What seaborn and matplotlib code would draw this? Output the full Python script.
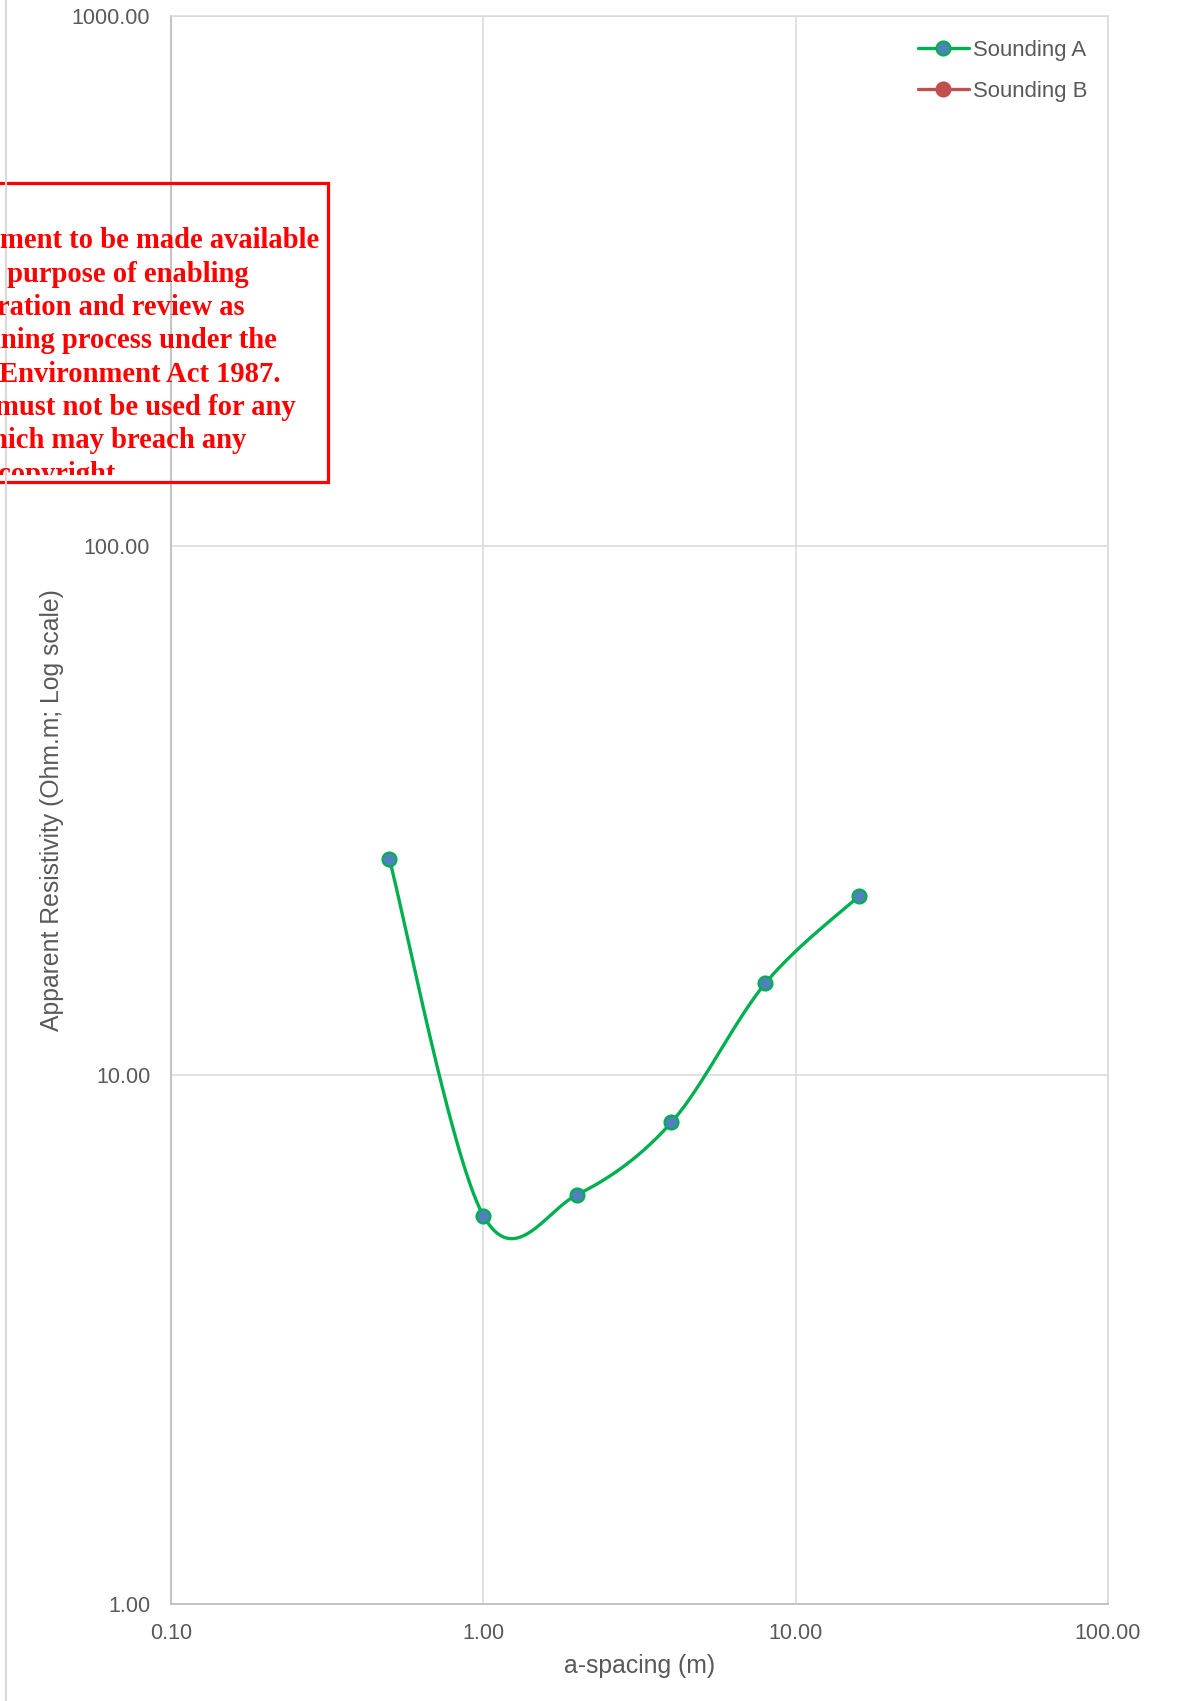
import numpy as np
import pandas as pd
import matplotlib
matplotlib.use("Agg")
import matplotlib.pyplot as plt
import seaborn as sns
from matplotlib.lines import Line2D
from matplotlib.patches import Rectangle
from matplotlib.ticker import LogLocator, FormatStrFormatter, NullLocator, NullFormatter

# Wenner sounding data
a_spacing = [0.5, 1.0, 2.0, 4.0, 8.0, 16.0]
rho_a = [25.6, 5.42, 5.94, 8.13, 14.9, 21.8]
series_names = ["Sounding A", "Sounding B"]

x_ticks = [0.1, 1, 10, 100]
y_ticks = [1, 10, 100, 1000]

stamp_lines = [
    "ment to be made available",
    " purpose of enabling",
    "ration and review as",
    "nning process under the",
    " Environment Act 1987.",
    "must not be used for any",
    "hich may breach any",
    "copyright",
]

GREEN = "#00B050"
BLUE = "#4F81BD"
RED = "#C0504D"
TEXT = "#595959"
GRID = "#D9D9D9"
AXIS = "#BFBFBF"

sns.set_style("white")
plt.rcParams["font.family"] = ["Liberation Sans", "DejaVu Sans"]

W, H = 1191, 1701
fig = plt.figure(figsize=(W / 100, H / 100), dpi=100)
L, R, T, B = 171, 1108, 16.5, 1604
ax = fig.add_axes([L / W, 1 - B / H, (R - L) / W, (B - T) / H])

ax.set_xscale("log")
ax.set_yscale("log")
ax.set_xlim(x_ticks[0], x_ticks[-1])
ax.set_ylim(y_ticks[0], y_ticks[-1])


def smooth_curve(x, y, n=60):
    """Bezier smoothing (Catmull-Rom style) computed in screen space."""
    pts = ax.transData.transform(np.column_stack([x, y]))
    P = np.vstack([pts[0], pts, pts[-1]])
    t = np.linspace(0, 1, n)[:, None]
    segs = []
    for i in range(len(pts) - 1):
        p0, p1, p2, p3 = P[i], P[i + 1], P[i + 2], P[i + 3]
        c1 = p1 + (p2 - p0) / 6.0
        c2 = p2 - (p3 - p1) / 6.0
        seg = ((1 - t) ** 3) * p1 + 3 * ((1 - t) ** 2) * t * c1 \
            + 3 * (1 - t) * t ** 2 * c2 + t ** 3 * p2
        segs.append(seg if i == 0 else seg[1:])
    curve = np.vstack(segs)
    back = ax.transData.inverted().transform(curve)
    return back[:, 0], back[:, 1]


cx, cy = smooth_curve(a_spacing, rho_a)
curve_df = pd.DataFrame({"a": cx, "rho": cy})
pts_df = pd.DataFrame({"a": a_spacing, "rho": rho_a})

sns.lineplot(data=curve_df, x="a", y="rho", ax=ax, color=GREEN, linewidth=2.4,
             estimator=None, sort=False, zorder=3)
sns.scatterplot(data=pts_df, x="a", y="rho", ax=ax, color=BLUE, s=100,
                edgecolor=GREEN, linewidth=1.6, zorder=4)

# axes styling
ax.xaxis.set_major_locator(LogLocator(base=10, numticks=10))
ax.xaxis.set_minor_locator(LogLocator(base=10, subs=np.arange(2, 10), numticks=20))
ax.xaxis.set_minor_formatter(NullFormatter())
ax.yaxis.set_major_locator(LogLocator(base=10, numticks=10))
ax.yaxis.set_minor_locator(NullLocator())
ax.xaxis.set_major_formatter(FormatStrFormatter("%.2f"))
ax.yaxis.set_major_formatter(FormatStrFormatter("%.2f"))

ax.grid(True, which="major", color=GRID, linewidth=1.1)
for side in ["top", "right"]:
    ax.spines[side].set_color(GRID)
    ax.spines[side].set_linewidth(1.1)
for side in ["left", "bottom"]:
    ax.spines[side].set_color(AXIS)
    ax.spines[side].set_linewidth(1.3)

ax.tick_params(axis="x", which="major", direction="out", length=4, width=1.1,
               color=AXIS, labelsize=15.5, labelcolor=TEXT, pad=9.5)
ax.tick_params(axis="x", which="minor", direction="inout", length=7, width=1.1,
               color=AXIS)
ax.tick_params(axis="y", which="major", direction="out", length=5, width=1.1,
               color=AXIS, labelsize=15.5, labelcolor=TEXT, pad=10)

ax.set_xlabel("a-spacing (m)", fontsize=17.8, color=TEXT)
ax.set_ylabel("Apparent Resistivity (Ohm.m; Log scale)", fontsize=17.8, color=TEXT)
ax.xaxis.label.set_va("center")
ax.yaxis.label.set_va("center")
ax.xaxis.set_label_coords((L + R) / 2 / W, 1 - 1666 / H, transform=fig.transFigure)
ax.yaxis.set_label_coords(52 / W, 1 - 810 / H, transform=fig.transFigure)

# legend
handles = [
    Line2D([], [], color=GREEN, linewidth=2.4, marker="o", markersize=10,
           markerfacecolor=BLUE, markeredgecolor=GREEN, markeredgewidth=1.6),
    Line2D([], [], color=RED, linewidth=2.4, marker="o", markersize=10,
           markerfacecolor=RED, markeredgecolor=RED, markeredgewidth=1.6),
]
leg = ax.legend(handles, series_names, loc="upper left",
                bbox_to_anchor=(918 / W, 1 - 40 / H), bbox_transform=fig.transFigure,
                frameon=False, fontsize=15.9, handlelength=2.3, handletextpad=0.2,
                labelspacing=0.9, borderpad=0, borderaxespad=0)
for txt in leg.get_texts():
    txt.set_color(TEXT)

# page border on the left
fig.add_artist(Line2D([6 / W, 6 / W], [0, 1], transform=fig.transFigure,
                      color=GRID, linewidth=1.5))

# planning stamp
box_top, box_bot, box_right = 182.7, 481.7, 327.7
fig.add_artist(Rectangle((-20 / W, 1 - box_bot / H), (box_right + 20) / W,
                         (box_bot - box_top) / H, transform=fig.transFigure,
                         fill=False, edgecolor="#FF0000", linewidth=2.3))
clip = Rectangle((0, 1 - 475 / H), 1, (475 - box_top) / H,
                 transform=fig.transFigure, visible=False)
fig.add_artist(clip)
right_ends = [319.3, 248.3, 245, 277, 281, 296, 246.7, 115]
for i, (line, xr) in enumerate(zip(stamp_lines, right_ends)):
    yb = 248.3 + i * 33.35
    t = fig.text(xr / W, 1 - yb / H, line, ha="right", va="baseline",
                 color="#FF0000", fontsize=20.6, fontweight="bold",
                 family=["Liberation Serif", "DejaVu Serif"])
    t.set_clip_path(clip)

fig.savefig("out.png", dpi=100)
